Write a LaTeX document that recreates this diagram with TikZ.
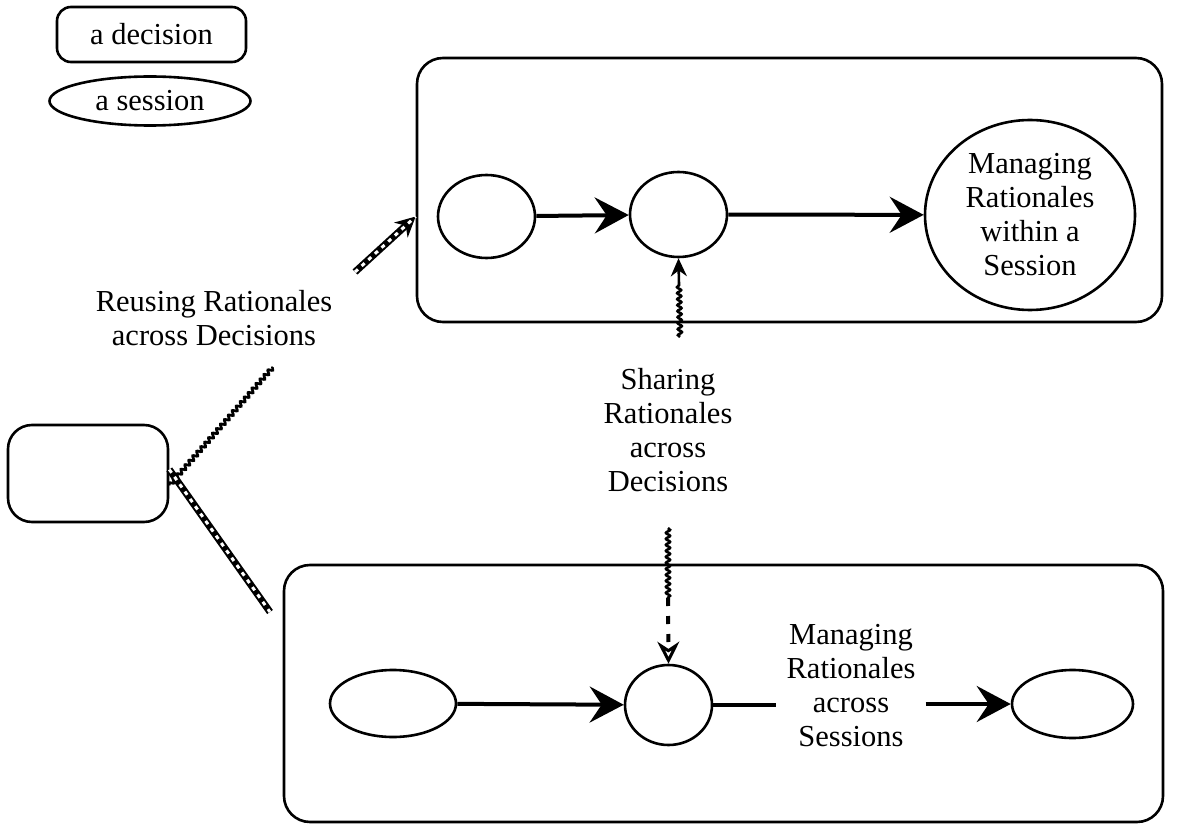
\documentclass[tikz,border=0pt]{standalone}
\usepackage{fontspec}
\setmainfont{Liberation Serif}
\usetikzlibrary{arrows.meta,decorations.pathmorphing,shapes.geometric}
\begin{document}
\begin{tikzpicture}[x=1pt,y=-1pt,
  txt/.style={font=\fontsize{30.5}{34}\selectfont, align=center},
  decision/.style={draw, line width=2.6pt, rounded corners=14pt, inner sep=0pt},
  session/.style={draw, ellipse, line width=2.6pt, inner sep=0pt},
  flow/.style={line width=4pt, -{Stealth[length=34pt,width=36pt,inset=12pt]}},
  plain/.style={line width=4pt},
  wavy/.style={line width=2.6pt, decorate, decoration={snake, amplitude=2pt, segment length=6pt}},
  chain/.style={line width=7pt, postaction={draw=white, line width=3pt, arrows=-, dash pattern=on 4pt off 5pt}},
  lbl/.style={txt, inner sep=6pt}
]
\useasboundingbox (0,0) rectangle (1178,826);

% legend
\node[decision, txt, minimum width=189pt, minimum height=55pt] (legD) at (151.5,34.5) {a decision};
\node[session, txt, minimum width=201pt, minimum height=49pt] (legS) at (150,101) {a session};

% upper container: decisions within one session
\node[decision, rounded corners=26pt, minimum width=745pt, minimum height=264pt] (topbox) at (789.5,190) {};
\node[session, minimum width=97pt, minimum height=83pt] (tl) at (486.5,216.5) {};
\node[session, minimum width=97pt, minimum height=85pt] (tm) at (678.5,214.5) {};
\node[session, txt, minimum width=210pt, minimum height=190pt] (tr) at (1030,215) {Managing\\Rationales\\within a\\Session};
\draw[flow] (tl) -- (tm);
\draw[flow] (tm) -- (tr);

% lower container: sessions
\node[decision, rounded corners=26pt, minimum width=879pt, minimum height=257pt] (botbox) at (723.5,693.5) {};
\node[session, minimum width=126pt, minimum height=67pt] (bl) at (393,703.5) {};
\node[session, minimum width=87pt, minimum height=80pt] (bm) at (668.5,705) {};
\node[session, minimum width=121pt, minimum height=68pt] (br) at (1072.5,704) {};
\draw[flow] (bl) -- (bm);
\node[lbl, inner xsep=10pt] (across) at (851,686) {Managing\\Rationales\\across\\Sessions};
\draw[plain] (bm.east) -- (bm.east -| across.west);
\draw[flow] (br.west -| across.east) -- (br);

% left decision and the reuse links
\node[decision, rounded corners=24pt, minimum width=160pt, minimum height=97pt] (ld) at (88,473.5) {};
\node[lbl] (reuse) at (214,318) {Reusing Rationales\\across Decisions};
\coordinate (reuseEnd) at (273,367);
\coordinate (reuseStart) at (355,272);
\coordinate (sessEnd) at (270,612);
\draw[wavy] ([yshift=-12pt]ld.east) -- (reuseEnd);
\draw[chain] ([yshift=4pt]ld.east) -- (sessEnd);
\draw[chain, -{Stealth[length=20pt,width=20pt]}] (reuseStart) -- (topbox.west |- tl);

% sharing across decisions
\node[lbl] (share) at (668,430) {Sharing\\Rationales\\across\\Decisions};
\draw[wavy] (680,337) -- (679,285);
\draw[line width=2.6pt, -{Stealth[length=18pt,width=16pt]}] (679,285) -- (tm.south);
\draw[wavy] (668,528) -- (668,598);
\draw[line width=4pt, dash pattern=on 8pt off 10pt, -{Stealth[open,length=22pt,width=22pt,line width=3pt]}] (668,598) -- (bm.north);
\end{tikzpicture}
\end{document}
